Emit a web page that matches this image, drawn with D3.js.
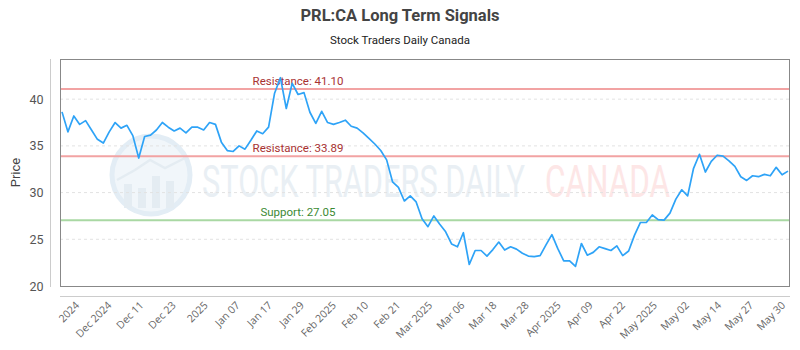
<!DOCTYPE html>
<html>
<head>
<meta charset="utf-8">
<script src="https://cdn.jsdelivr.net/npm/d3@7"></script>
<style>
  body { margin: 0; background: #fff; }
  svg { display: block; }
</style>
</head>
<body>
<svg id="chart" width="800" height="350"></svg>
<script>
const prices = [
  38.64, 36.5, 38.2, 37.3, 37.7, 36.7, 35.7, 35.3, 36.5, 37.5,
  36.9, 37.2, 36.1, 33.7, 36.0, 36.15, 36.7, 37.5, 37.0, 36.6,
  36.9, 36.4, 37.0, 37.0, 36.7, 37.5, 37.3, 35.4, 34.5, 34.4,
  35.0, 34.65, 35.6, 36.6, 36.3, 37.0, 40.6, 42.3, 39.0, 41.7,
  40.5, 40.7, 38.6, 37.4, 38.7, 37.5, 37.3, 37.5, 37.75, 37.1,
  36.9, 36.4, 35.8, 35.2, 34.5, 33.5, 31.15, 30.55, 29.1, 29.65,
  29.0, 27.2, 26.35, 27.5, 26.6, 25.8, 24.5, 24.2, 25.7, 22.3,
  23.8, 23.8, 23.2, 23.9, 24.7, 23.85, 24.2, 23.95, 23.5, 23.2,
  23.15, 23.25, 24.4, 25.5, 24.0, 22.7, 22.7, 22.1, 24.55, 23.3,
  23.6, 24.2, 24.0, 23.8, 24.3, 23.25, 23.75, 25.45, 26.8, 26.8,
  27.6, 27.1, 27.05, 27.8, 29.3, 30.3, 29.65, 32.6, 34.1, 32.2,
  33.35, 34.0, 33.9, 33.4, 32.8, 31.7, 31.3, 31.8, 31.7, 31.95,
  31.8, 32.7, 31.9, 32.3
];
const tickLabels = ["2024", "Dec 2024", "Dec 11", "Dec 23", "2025", "Jan 07", "Jan 17", "Jan 29",
  "Feb 2025", "Feb 10", "Feb 21", "Mar 2025", "Mar 06", "Mar 18", "Mar 28", "Apr 2025",
  "Apr 09", "Apr 22", "May 2025", "May 02", "May 14", "May 27", "May 30"];
const yTicks = [20, 25, 30, 35, 40];
const levelNames = ["Resistance", "Resistance", "Support"];
const levelValues = [41.10, 33.89, 27.05];
const levelKinds = ["res", "res", "sup"];

const svg = d3.select("#chart");
const L = 60, R = 790, T = 59, B = 286;

const x = d3.scaleLinear().domain([0, prices.length - 1]).range([62, 788]);
const y = d3.scaleLinear().domain([20, 44.3]).range([B, T]);
const xTick = d3.scalePoint().domain(tickLabels).range([77, 783]);

// Title
svg.append("text").attr("x", 400).attr("y", 21).attr("text-anchor", "middle")
  .attr("font-family", "Roboto, sans-serif").attr("font-weight", "bold")
  .attr("font-size", 16.5).attr("fill", "#444").text("PRL:CA Long Term Signals");
svg.append("text").attr("x", 400).attr("y", 44).attr("text-anchor", "middle")
  .attr("font-family", "Roboto, sans-serif").attr("font-size", 11.5)
  .attr("fill", "#222").text("Stock Traders Daily Canada");

// Watermark
const wm = svg.append("g");
wm.append("circle").attr("cx", 151).attr("cy", 175).attr("r", 39)
  .attr("fill", "#f1f6fa").attr("stroke", "#e3edf5").attr("stroke-width", 5);
[[124, 184, 8, 24], [138, 188, 8, 20], [152, 176, 8, 32], [166, 181, 8, 27]].forEach(b => {
  wm.append("rect").attr("x", b[0]).attr("y", b[1]).attr("width", b[2]).attr("height", b[3]).attr("fill", "#e4ecf2");
});
wm.append("path").attr("d", "M117,180 L135,170 L150,160 L165,168 L185,158")
  .attr("fill", "none").attr("stroke", "#e4ecf2").attr("stroke-width", 2.5);
const wmText = wm.append("text").attr("font-family", "Roboto, sans-serif")
  .attr("font-size", 44).attr("fill", "#e9eff4").text("STOCK TRADERS DAILY");
const w1 = wmText.node().getComputedTextLength();
wmText.attr("transform", `translate(202,197) scale(${323 / w1},1)`);
const wmText2 = wm.append("text").attr("font-family", "Roboto, sans-serif")
  .attr("font-size", 44).attr("fill", "#fde6e6").text("CANADA");
const w2 = wmText2.node().getComputedTextLength();
wmText2.attr("transform", `translate(545,197) scale(${125 / w2},1)`);

// Grid lines
svg.append("g").selectAll("line").data(yTicks.filter(v => v > 20)).join("line")
  .attr("x1", L).attr("x2", R).attr("y1", d => y(d)).attr("y2", d => y(d))
  .attr("stroke", "#e2e2e2").attr("stroke-dasharray", "3,3").attr("stroke-width", 1);

// Y axis
const yAxis = svg.append("g").attr("transform", `translate(50.5,0)`)
  .call(d3.axisLeft(y).tickValues(yTicks).tickSize(0).tickPadding(7));
yAxis.select(".domain").attr("stroke", "#ccc").attr("d", `M0,${T}V${B + 1}`);
yAxis.selectAll("text").attr("font-family", "Roboto, sans-serif").attr("font-size", 12.5).attr("fill", "#555");

svg.append("text").attr("transform", `translate(20,${(T + B) / 2}) rotate(-90)`)
  .attr("text-anchor", "middle").attr("font-family", "Roboto, sans-serif")
  .attr("font-size", 13).attr("fill", "#444").text("Price");

// X axis
const xAxis = svg.append("g").attr("transform", `translate(0,296.5)`)
  .call(d3.axisBottom(xTick).tickSize(0));
xAxis.select(".domain").attr("stroke", "#ccc").attr("d", `M${L},0H${R}`);
xAxis.selectAll("text").attr("font-family", "'Open Sans', sans-serif").attr("font-size", 10.5)
  .attr("fill", "#666").attr("text-anchor", "end")
  .attr("x", 0).attr("y", 0).attr("dy", "0.35em")
  .attr("transform", "translate(0,7) rotate(-45)");

// Level lines
const levels = levelValues.map((v, i) => ({ v, name: levelNames[i], kind: levelKinds[i] }));
svg.append("g").selectAll("line").data(levels).join("line")
  .attr("x1", L).attr("x2", R).attr("y1", d => y(d.v)).attr("y2", d => y(d.v))
  .attr("stroke", d => d.kind === "res" ? "#f2a3a3" : "#a9d8a3").attr("stroke-width", 2);
svg.append("g").selectAll("text").data(levels).join("text")
  .attr("x", 298).attr("y", d => y(d.v) - 4).attr("text-anchor", "middle")
  .attr("font-family", "Roboto, sans-serif").attr("font-size", 11.5)
  .attr("fill", d => d.kind === "res" ? "#a83232" : "#3c8a34")
  .text(d => `${d.name}: ${d.v.toFixed(2)}`);

// Plot border
svg.append("rect").attr("x", L + 0.5).attr("y", T + 0.5).attr("width", R - L - 1).attr("height", B - T)
  .attr("fill", "none").attr("stroke", "#888").attr("stroke-width", 1);

// Price line
svg.append("path").datum(prices)
  .attr("d", d3.line().x((d, i) => x(i)).y(d => y(d)))
  .attr("fill", "none").attr("stroke", "#2ea3f7").attr("stroke-width", 1.7)
  .attr("stroke-linejoin", "round");
</script>
</body>
</html>
